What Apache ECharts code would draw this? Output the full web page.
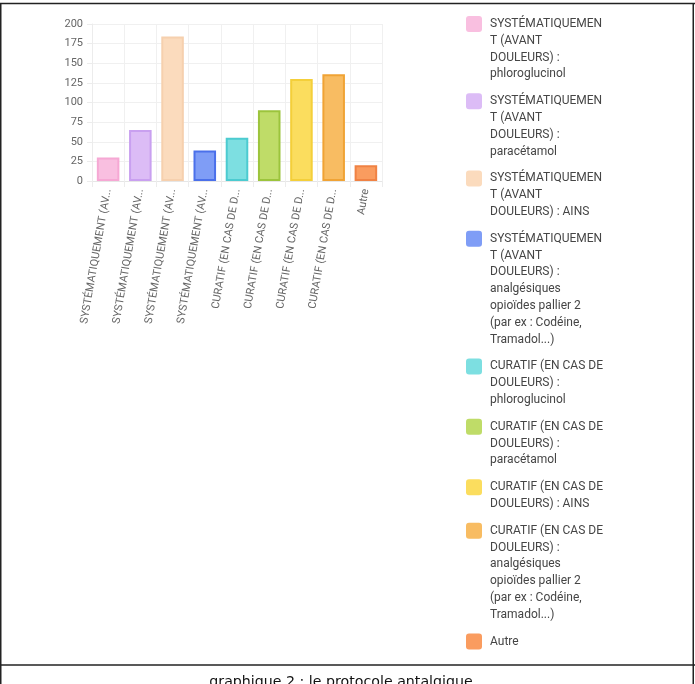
<!DOCTYPE html>
<html><head><meta charset="utf-8">
<script src="https://cdn.jsdelivr.net/npm/echarts@6/dist/echarts.min.js"></script>
<style>html,body{margin:0;padding:0;background:#fff}#c{width:695px;height:684px}</style>
</head><body><div id="c"></div>
<script>
const categories = [
  "SYSTÉMATIQUEMENT (AVANT DOULEURS) : phloroglucinol",
  "SYSTÉMATIQUEMENT (AVANT DOULEURS) : paracétamol",
  "SYSTÉMATIQUEMENT (AVANT DOULEURS) : AINS",
  "SYSTÉMATIQUEMENT (AVANT DOULEURS) : analgésiques opioïdes pallier 2 (par ex : Codéine, Tramadol...)",
  "CURATIF (EN CAS DE DOULEURS) : phloroglucinol",
  "CURATIF (EN CAS DE DOULEURS) : paracétamol",
  "CURATIF (EN CAS DE DOULEURS) : AINS",
  "CURATIF (EN CAS DE DOULEURS) : analgésiques opioïdes pallier 2 (par ex : Codéine, Tramadol...)",
  "Autre"
];
const values = [30, 65, 184, 39, 55, 90, 130, 136, 20];
const legendLabels = [
  "SYSTÉMATIQUEMEN\nT (AVANT\nDOULEURS) :\nphloroglucinol",
  "SYSTÉMATIQUEMEN\nT (AVANT\nDOULEURS) :\nparacétamol",
  "SYSTÉMATIQUEMEN\nT (AVANT\nDOULEURS) : AINS",
  "SYSTÉMATIQUEMEN\nT (AVANT\nDOULEURS) :\nanalgésiques\nopioïdes pallier 2\n(par ex : Codéine,\nTramadol...)",
  "CURATIF (EN CAS DE\nDOULEURS) :\nphloroglucinol",
  "CURATIF (EN CAS DE\nDOULEURS) :\nparacétamol",
  "CURATIF (EN CAS DE\nDOULEURS) : AINS",
  "CURATIF (EN CAS DE\nDOULEURS) :\nanalgésiques\nopioïdes pallier 2\n(par ex : Codéine,\nTramadol...)",
  "Autre"
];
const fillColors = ["#f9bfe0","#dcbcf6","#fbdbbd","#7f9df6","#7ddfe1","#bfdc68","#fbdd5e","#f8bc62","#fa9c5f"];
const borderColors = ["#f6a8d4","#c9a0f0","#f6d0ae","#4b70ea","#4ccbd0","#9cc43c","#f4cf3a","#f0a335","#f08244"];
const yMin = 0, yMax = 200, yStep = 25;
const caption = "graphique 2 : le protocole antalgique";

const chart = echarts.init(document.getElementById('c'), null, {renderer: 'canvas'});
const FONT = 'Roboto, "Noto Sans", sans-serif';
const LH = 16.8, GAP = 10, ICON = 16;

// legend drawn as graphic elements so the swatch aligns with the first text line
const legendGraphics = [];
let c = 24;
legendLabels.forEach((lab, i) => {
  const n = lab.split('\n').length;
  legendGraphics.push({
    type: 'rect', silent: true,
    shape: {x: 466, y: c - ICON / 2, width: ICON, height: ICON, r: 3},
    style: {fill: fillColors[i]}
  });
  legendGraphics.push({
    type: 'text', silent: true, x: 490, y: c - LH / 2,
    style: {text: lab, fontFamily: FONT, fontSize: 12, fill: '#454545', lineHeight: LH,
            verticalAlign: 'top', align: 'left'}
  });
  c += n * LH + GAP;
});

const series = categories.map((name, i) => ({
  name: name, type: 'bar', stack: 'all', barWidth: '70%',
  data: values.map((v, j) => j === i ? v : '-'),
  itemStyle: {color: fillColors[i], borderColor: borderColors[i], borderWidth: 2},
  emphasis: {disabled: true}
}));

chart.setOption({
  backgroundColor: '#fff',
  animation: false,
  grid: {left: 92, right: 695 - 382, top: 24, height: 157, containLabel: false},
  xAxis: {
    type: 'category', data: categories,
    axisLine: {show: true, lineStyle: {color: '#e6e6e6'}},
    axisTick: {show: true, length: 6, lineStyle: {color: '#ececec'}},
    splitLine: {show: true, lineStyle: {color: '#f0f0f0'}},
    axisLabel: {rotate: 80, interval: 0, margin: 8, fontFamily: FONT, fontSize: 11, color: '#666',
      formatter: v => v.length > 20 ? v.slice(0, 20) + '...' : v}
  },
  yAxis: {
    type: 'value', min: yMin, max: yMax, interval: yStep,
    axisLine: {show: true, lineStyle: {color: '#ececec'}},
    axisTick: {show: true, length: 5, lineStyle: {color: '#ececec'}},
    splitLine: {show: true, lineStyle: {color: '#f0f0f0'}},
    axisLabel: {margin: 9, fontFamily: FONT, fontSize: 11, color: '#666'}
  },
  series: series,
  graphic: legendGraphics.concat([
    {type: 'line', shape: {x1: 0, y1: 3.5, x2: 695, y2: 3.5}, style: {stroke: '#222', lineWidth: 1.5}, silent: true},
    {type: 'line', shape: {x1: 0.75, y1: 3, x2: 0.75, y2: 684}, style: {stroke: '#222', lineWidth: 1.5}, silent: true},
    {type: 'line', shape: {x1: 693.25, y1: 3, x2: 693.25, y2: 684}, style: {stroke: '#222', lineWidth: 1.5}, silent: true},
    {type: 'line', shape: {x1: 0, y1: 665, x2: 695, y2: 665}, style: {stroke: '#222', lineWidth: 1.5}, silent: true},
    {type: 'text', x: 341, y: 675, silent: true,
     style: {text: caption, align: 'center', verticalAlign: 'top',
             fontFamily: '"DejaVu Sans", Verdana, sans-serif', fontSize: 14.2, fill: '#111'}}
  ])
});
</script>
</body></html>
